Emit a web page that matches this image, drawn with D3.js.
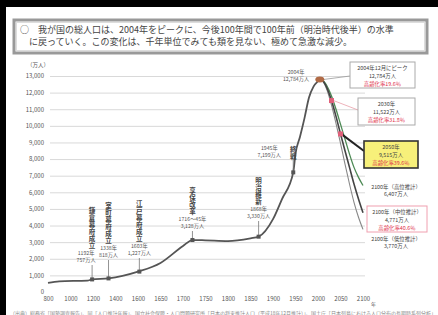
<!DOCTYPE html>
<html>
<head>
<meta charset="utf-8">
<script src="https://cdn.jsdelivr.net/npm/d3@7"></script>
<style>
  html, body { margin: 0; padding: 0; background: #fff; }
  svg { display: block; font-family: "Noto Sans CJK JP", "Noto Sans", sans-serif; }
  .vert { writing-mode: vertical-rl; text-orientation: upright; }
</style>
</head>
<body>
<svg id="chart" width="438" height="315"></svg>
<script>
// x axis ticks (the axis is not uniform: each tick gets the same width)
var tickYears = [800, 1000, 1200, 1400, 1600, 1650, 1700, 1750, 1800, 1850, 1900, 1950, 2000, 2050, 2100];
var yTicks = [0, 1000, 2000, 3000, 4000, 5000, 6000, 7000, 8000, 9000, 10000, 11000, 12000, 13000];

// historical population (万人)
var histYears = [800, 900, 1150, 1192, 1338, 1600, 1650, 1700, 1721, 1750, 1800, 1850, 1868, 1900, 1920, 1945, 1950, 1960, 1970, 1980, 1990, 2000, 2004];
var histPop   = [551, 644, 684, 757, 818, 1227, 1750, 2770, 3128, 3110, 3065, 3230, 3330, 4385, 5596, 7199, 8320, 9342, 10467, 11706, 12361, 12693, 12784];

// projections 2004-2100 (万人)
var projYears = [2004, 2010, 2020, 2030, 2040, 2050, 2060, 2070, 2080, 2090, 2100];
var projHigh  = [12784, 12750, 12400, 11800, 11000, 10100, 9200, 8300, 7500, 6900, 6407];
var projMid   = [12784, 12718, 12274, 11522, 10570, 9515, 8500, 7500, 6500, 5600, 4771];
var projLow   = [12784, 12700, 12150, 11250, 10150, 8950, 7700, 6500, 5400, 4500, 3770];

// historical events
var eventNames = ["鎌倉幕府成立", "室町幕府成立", "江戸幕府成立", "享保改革", "明治維新", "終戦"];
var eventYears = [1192, 1338, 1603, 1721, 1868, 1945];
var eventPop   = [757, 818, 1227, 3128, 3330, 7199];
var eventText  = [["1192年", "757万人"], ["1338年", "818万人"], ["1603年", "1,227万人"],
                  ["1716～45年", "3,128万人"], ["1868年", "3,330万人"], ["1945年", "7,199万人"]];

var titleLines = [
  "○　我が国の総人口は、2004年をピークに、今後100年間で100年前（明治時代後半）の水準",
  "　に戻っていく。この変化は、千年単位でみても類を見ない、極めて急激な減少。"
];
var sourceNote = "（出典）総務省「国勢調査報告」、同「人口推計年報」、国立社会保障・人口問題研究所「日本の将来推計人口（平成18年12月推計）」、国土庁「日本列島における人口分布の長期時系列分析」";

var svg = d3.select("#chart");

// slide frame
svg.append("rect").attr("x", 0).attr("y", 0).attr("width", 438).attr("height", 7).attr("fill", "#000");
svg.append("rect").attr("x", 0).attr("y", 0).attr("width", 6).attr("height", 315).attr("fill", "#000");

// title box
svg.append("rect").attr("x", 14).attr("y", 20).attr("width", 413).attr("height", 33)
  .attr("fill", "#fff").attr("stroke", "#999").attr("stroke-width", 3);
svg.append("rect").attr("x", 16.5).attr("y", 22.5).attr("width", 408).attr("height", 28)
  .attr("fill", "none").attr("stroke", "#ddd").attr("stroke-width", 1);
titleLines.forEach(function (t, i) {
  svg.append("text").attr("x", 20).attr("y", 33 + i * 12)
    .attr("font-size", 9).attr("fill", "#444").text(t);
});

// scales
var x = d3.scaleLinear()
  .domain(tickYears)
  .range(tickYears.map(function (d, i) { return 48 + i * 22.5; }));
var y = d3.scaleLinear().domain([0, 13000]).range([292, 76]);

// grid
var grid = svg.append("g").attr("transform", "translate(50,0)")
  .call(d3.axisLeft(y).tickValues(yTicks.slice(1)).tickSize(-315).tickFormat(""));
grid.select(".domain").remove();
grid.selectAll("line").attr("stroke", "#d9d9d9").attr("stroke-width", 1);

// y axis labels
var yAxis = svg.append("g").attr("transform", "translate(44,0)")
  .call(d3.axisLeft(y).tickValues(yTicks).tickSize(0).tickPadding(0).tickFormat(d3.format(",")));
yAxis.select(".domain").remove();
yAxis.selectAll("text").attr("font-size", 6).attr("fill", "#555").attr("font-family", "Noto Sans CJK JP");
svg.append("text").attr("x", 38).attr("y", 67).attr("text-anchor", "middle")
  .attr("font-size", 5.5).attr("fill", "#555").text("（万人）");

// x axis labels
var xAxis = svg.append("g").attr("transform", "translate(0,297)")
  .call(d3.axisBottom(x).tickValues(tickYears).tickSize(0).tickPadding(0).tickFormat(function (d) { return d; }));
xAxis.select(".domain").remove();
xAxis.selectAll("text").attr("font-size", 6).attr("fill", "#555").attr("font-family", "Noto Sans CJK JP");
svg.append("text").attr("x", 371).attr("y", 306).attr("font-size", 5).attr("fill", "#555").text("年");

// lines
var line = d3.line().x(function (d) { return x(d[0]); }).y(function (d) { return y(d[1]); }).curve(d3.curveMonotoneX);
function pairs(ys, vs) { return ys.map(function (d, i) { return [d, vs[i]]; }); }

svg.append("path").datum(pairs(histYears, histPop)).attr("d", line)
  .attr("fill", "none").attr("stroke", "#555").attr("stroke-width", 1.8);
svg.append("path").datum(pairs(projYears, projHigh)).attr("d", line)
  .attr("fill", "none").attr("stroke", "#4d8a55").attr("stroke-width", 1.3);
svg.append("path").datum(pairs(projYears, projLow)).attr("d", line)
  .attr("fill", "none").attr("stroke", "#888").attr("stroke-width", 1.1);
svg.append("path").datum(pairs(projYears, projMid)).attr("d", line)
  .attr("fill", "none").attr("stroke", "#444").attr("stroke-width", 1.6);

// event markers, vertical titles and labels
var colTop = [207, 202, 200, 187, 177, 146];
var labelDx = [-6, 0, 0, 0, 0, -24];
eventYears.forEach(function (yr, i) {
  var cx = x(yr), cy = y(eventPop[i]);
  var top = colTop[i];
  var bottom = top + eventNames[i].length * 7;
  var lx = cx + labelDx[i];
  var labTop = i === 5 ? top + 4 : bottom + 6;
  var lineTop = i === 5 ? bottom : labTop + 10;
  svg.append("line").attr("x1", cx).attr("x2", cx).attr("y1", lineTop).attr("y2", cy)
    .attr("stroke", "#777").attr("stroke-width", 0.8);
  svg.append("text").attr("class", "vert").attr("x", cx).attr("y", top)
    .attr("font-size", 6.5).attr("font-weight", "bold").attr("fill", "#444")
    .attr("letter-spacing", 0.5).text(eventNames[i]);
  eventText[i].forEach(function (t, j) {
    svg.append("text").attr("x", lx).attr("y", labTop + j * 6.5).attr("text-anchor", "middle")
      .attr("font-size", 5.2).attr("fill", "#555").text(t);
  });
  svg.append("rect").attr("x", cx - 2).attr("y", cy - 2).attr("width", 4).attr("height", 4)
    .attr("fill", "#555");
});

// peak label on left
svg.append("text").attr("x", 296).attr("y", 74).attr("text-anchor", "middle")
  .attr("font-size", 5.2).attr("fill", "#555").text("2004年");
svg.append("text").attr("x", 296).attr("y", 80.5).attr("text-anchor", "middle")
  .attr("font-size", 5.2).attr("fill", "#555").text("12,784万人");

// connectors
svg.append("line").attr("x1", x(2004) + 3).attr("y1", y(12784)).attr("x2", 350).attr("y2", 76)
  .attr("stroke", "#999").attr("stroke-width", 0.8);
svg.append("line").attr("x1", x(2030) + 2).attr("y1", y(11522)).attr("x2", 358).attr("y2", 110)
  .attr("stroke", "#e8a0a8").attr("stroke-width", 0.8);
svg.append("line").attr("x1", x(2050) + 2).attr("y1", y(9515) + 1).attr("x2", 364).attr("y2", 151)
  .attr("stroke", "#222").attr("stroke-width", 2);

// point markers
svg.append("ellipse").attr("cx", x(2004)).attr("cy", y(12784)).attr("rx", 4.5).attr("ry", 3)
  .attr("fill", "#b06a45");
[[2030, 11522], [2050, 9515]].forEach(function (p) {
  svg.append("rect").attr("x", x(p[0]) - 2.5).attr("y", y(p[1]) - 2.5).attr("width", 5).attr("height", 5)
    .attr("fill", "#e0607a");
});

// callout boxes
function callout(bx, by, bw, bh, lines, opts) {
  svg.append("rect").attr("x", bx).attr("y", by).attr("width", bw).attr("height", bh)
    .attr("fill", opts.fill).attr("stroke", opts.stroke).attr("stroke-width", opts.sw);
  lines.forEach(function (t, j) {
    svg.append("text").attr("x", bx + bw / 2).attr("y", by + 8 + j * 7.8).attr("text-anchor", "middle")
      .attr("font-size", 5.4).attr("fill", j === 2 ? "#e0304a" : "#444").text(t);
  });
}
callout(350, 62, 65, 26, ["2004年12月にピーク", "12,784万人", "高齢化率19.6％"], { fill: "#fff", stroke: "#aaa", sw: 1 });
callout(358, 98, 57, 27, ["2030年", "11,522万人", "高齢化率31.8％"], { fill: "#fff", stroke: "#aaa", sw: 1 });
callout(364, 141, 54, 27, ["2050年", "9,515万人", "高齢化率39.6％"], { fill: "#f7f07a", stroke: "#333", sw: 1.6 });
callout(367, 206, 60, 26, ["2100年（中位推計）", "4,771万人", "高齢化率40.6％"], { fill: "#fff", stroke: "#f0a0b0", sw: 1 });

[["2100年（高位推計）", "6,407万人", 189], ["2100年（低位推計）", "3,770万人", 241]].forEach(function (d) {
  svg.append("text").attr("x", 396).attr("y", d[2]).attr("text-anchor", "middle")
    .attr("font-size", 5.4).attr("fill", "#444").text(d[0]);
  svg.append("text").attr("x", 396).attr("y", d[2] + 7).attr("text-anchor", "middle")
    .attr("font-size", 5.4).attr("fill", "#444").text(d[1]);
});

// source note (cut by the picture edge)
svg.append("text").attr("x", 10).attr("y", 315).attr("font-size", 5).attr("fill", "#888").text(sourceNote);
</script>
</body>
</html>
